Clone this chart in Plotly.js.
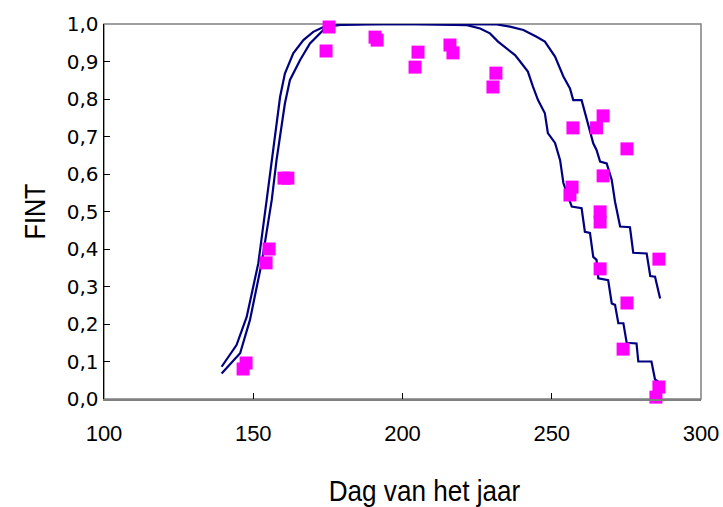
<!DOCTYPE html>
<html>
<head>
<meta charset="utf-8">
<script src="https://cdn.plot.ly/plotly-3.0.1.min.js"></script>
<style>html,body{margin:0;padding:0;background:#fff;}#chart{width:723px;height:507px;}</style>
</head>
<body>
<div id="chart"></div>
<script>
// Simulated curve A (earlier decline)
var simA_x = [139.4, 144.4, 147.8, 151.7, 154.5, 156.2, 159.0, 160.6, 163.4, 166.8, 170.1, 173.5, 180, 200, 221.6, 226.0, 229.3, 232.0, 234.9, 237.7, 239.4, 242.0, 243.7, 245.4, 247.7, 248.7, 251.1, 252.8, 253.9, 256.7, 260.0, 261.1, 262.8, 263.9, 265.0, 265.6, 268.9, 270.1, 271.2, 272.3, 274.0, 275.1, 278.4, 279.0, 283.4, 284.6, 285.7];
var simA_y = [0.086, 0.144, 0.219, 0.362, 0.531, 0.637, 0.806, 0.868, 0.922, 0.957, 0.979, 0.992, 0.998, 1.0, 0.997, 0.988, 0.975, 0.953, 0.935, 0.917, 0.900, 0.873, 0.833, 0.797, 0.762, 0.709, 0.683, 0.637, 0.576, 0.513, 0.509, 0.446, 0.443, 0.379, 0.371, 0.322, 0.317, 0.255, 0.251, 0.202, 0.202, 0.150, 0.148, 0.100, 0.100, 0.052, 0.046];
// Simulated curve B (later decline)
var simB_x = [139.4, 145.6, 148.9, 152.8, 156.2, 157.8, 160.6, 162.3, 165.7, 169.0, 173.5, 176.7, 190, 231.6, 236.0, 240.5, 244.9, 247.7, 251.1, 253.9, 256.1, 257.2, 260.0, 261.7, 263.9, 265.0, 266.2, 268.4, 270.1, 271.2, 272.9, 276.2, 277.3, 281.8, 283.0, 284.6, 286.3];
var simB_y = [0.068, 0.122, 0.211, 0.362, 0.531, 0.637, 0.788, 0.851, 0.904, 0.948, 0.984, 0.997, 1.0, 0.999, 0.993, 0.984, 0.966, 0.953, 0.913, 0.860, 0.828, 0.797, 0.797, 0.744, 0.682, 0.664, 0.633, 0.628, 0.584, 0.526, 0.460, 0.458, 0.390, 0.388, 0.328, 0.326, 0.268];
// Observations
var obs_x = [146.6, 147.6, 154.3, 155.3, 160.3, 161.6, 174.4, 175.4, 190.8, 191.5, 204.2, 205.2, 215.9, 216.9, 230.3, 231.3, 257.1, 265.0, 267.2, 275.2, 267.2, 256.8, 256.1, 266.2, 266.2, 285.9, 266.2, 275.2, 273.9, 285.9, 284.9];
var obs_y = [0.080, 0.096, 0.363, 0.400, 0.589, 0.589, 0.928, 0.992, 0.965, 0.957, 0.885, 0.925, 0.944, 0.923, 0.832, 0.869, 0.723, 0.723, 0.755, 0.667, 0.595, 0.565, 0.544, 0.499, 0.472, 0.373, 0.347, 0.256, 0.133, 0.032, 0.005];

var xTicks = [100, 150, 200, 250, 300];
var yTicks = [0, 0.1, 0.2, 0.3, 0.4, 0.5, 0.6, 0.7, 0.8, 0.9, 1.0];

var navy = '#000080';
var traces = [
  {x: simA_x, y: simA_y, type: 'scatter', mode: 'lines', line: {color: navy, width: 2.2}, hoverinfo: 'none'},
  {x: simB_x, y: simB_y, type: 'scatter', mode: 'lines', line: {color: navy, width: 2.2}, hoverinfo: 'none'},
  {x: obs_x, y: obs_y, type: 'scatter', mode: 'markers', marker: {symbol: 'square', size: 13, color: '#FF00FF'}, hoverinfo: 'none', cliponaxis: false}
];

var layout = {
  width: 723, height: 507,
  margin: {l: 104, r: 22, t: 24, b: 108},
  paper_bgcolor: '#ffffff', plot_bgcolor: '#ffffff',
  showlegend: false,
  separators: ',.',
  shapes: [{type: 'rect', xref: 'paper', yref: 'paper', x0: 0, x1: 1, y0: 0, y1: 1, line: {color: '#808080', width: 1.5}, layer: 'below'}],
  xaxis: {
    range: [100, 300], tickmode: 'array', tickvals: xTicks, ticktext: xTicks.map(String),
    ticks: 'inside', ticklen: 6, tickcolor: '#000', showgrid: false, zeroline: false,
    showline: true, linecolor: '#808080', linewidth: 1.5, ticklabelstandoff: 14,
    ticklabeloverflow: 'allow',
    tickfont: {family: 'Liberation Sans, Arial, sans-serif', size: 22, color: '#000'},
    title: {text: 'Dag van het jaar', font: {family: 'Liberation Sans, Arial, sans-serif', size: 30, color: '#000'}, standoff: 44}
  },
  yaxis: {
    range: [0, 1], tickmode: 'array', tickvals: yTicks, tickformat: '.1f',
    ticks: 'inside', ticklen: 6, tickcolor: '#000', showgrid: false, zeroline: false,
    showline: true, linecolor: '#000', linewidth: 1.5,
    tickfont: {family: 'DejaVu Sans, sans-serif', size: 20, color: '#000'},
    title: {text: 'FINT', font: {family: 'Liberation Sans, Arial, sans-serif', size: 30, color: '#000'}, standoff: 12}
  }
};

function condense(sel, factor, dx) {
  var nodes = document.querySelectorAll(sel);
  nodes.forEach(function (t) {
    var w = t.getComputedTextLength();
    if (w > 0) {
      t.setAttribute('textLength', (w * factor).toFixed(2));
      t.setAttribute('lengthAdjust', 'spacingAndGlyphs');
    }
    if (dx) {
      var x = parseFloat(t.getAttribute('x')) || 0;
      t.setAttribute('x', (x + dx).toFixed(2));
    }
  });
}

Plotly.newPlot('chart', traces, layout, {staticPlot: true, displayModeBar: false}).then(function () {
  condense('.g-xtitle text', 0.87, 22);
  condense('.g-ytitle text', 0.84, 0);
});
</script>
</body>
</html>
